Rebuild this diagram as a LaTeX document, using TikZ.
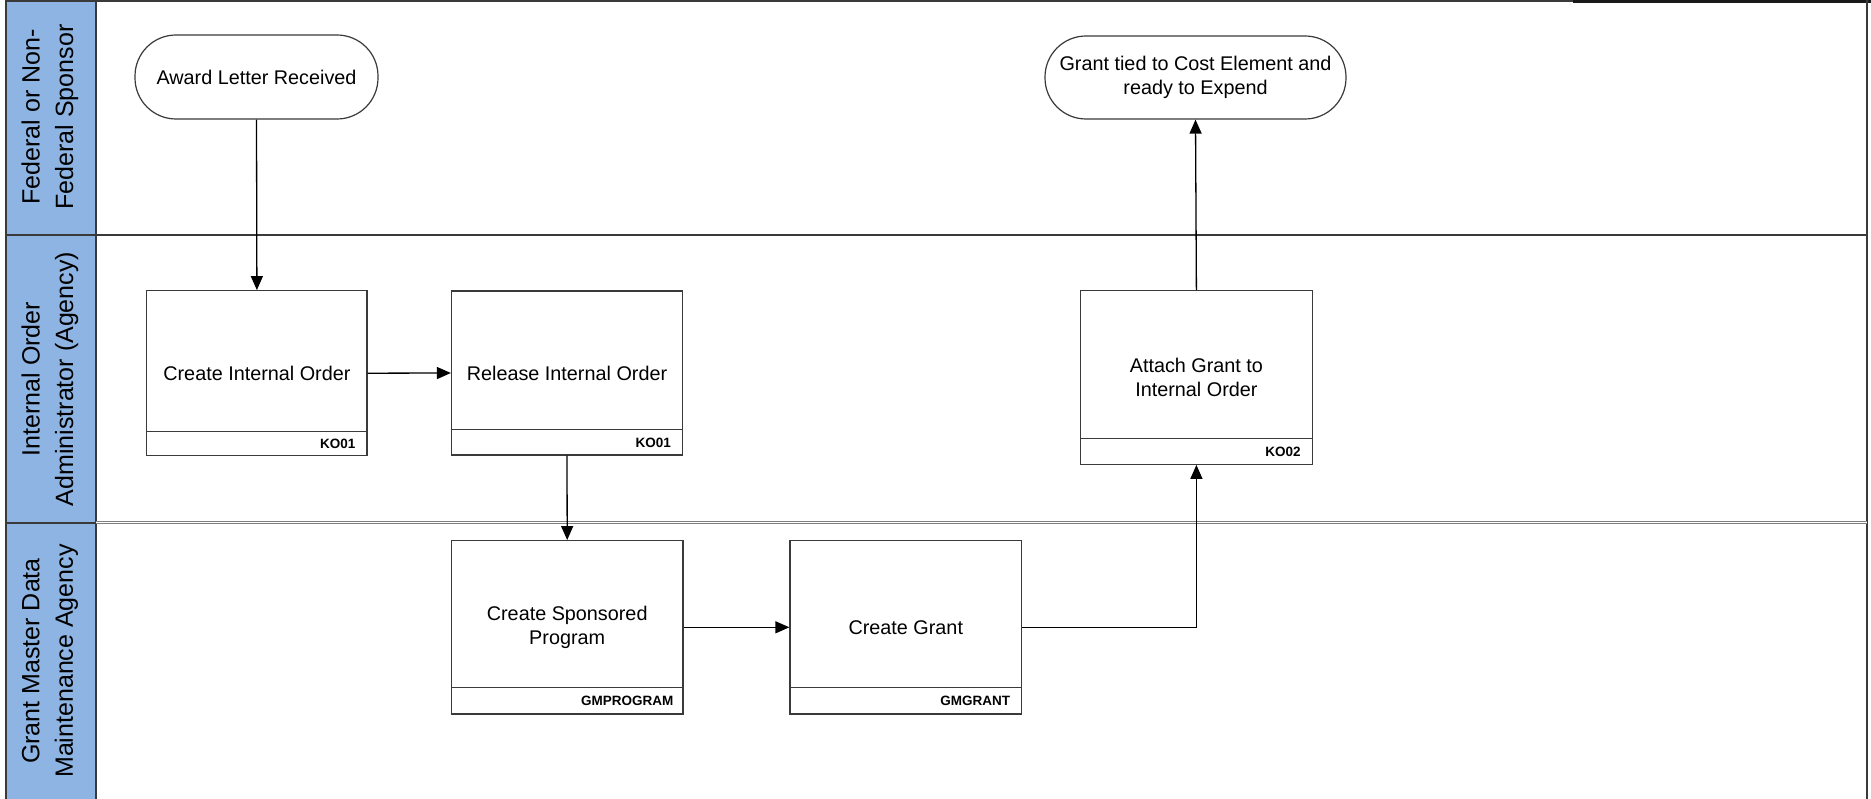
\documentclass[tikz,border=0pt]{standalone}
\usepackage{fontspec}
\setmainfont{Liberation Sans}
\usetikzlibrary{arrows.meta}
\definecolor{lanefill}{HTML}{8DB4E2}
\definecolor{edge}{HTML}{3A3A3A}
\begin{document}
\begin{tikzpicture}[x=1pt,y=-1pt,
  proc/.style={draw=edge, line width=1.2pt, fill=white, inner sep=0pt, align=center,
    font=\fontsize{19.8}{23.5}\selectfont},
  term/.style={draw=edge, line width=1.2pt, fill=white, rounded corners=41pt, inner sep=0pt,
    align=center, font=\fontsize{19.8}{24}\selectfont},
  code/.style={font=\bfseries\fontsize{13.5}{14}\selectfont, anchor=east, inner sep=0pt},
  flow/.style={draw=black, line width=1.3pt, -{Triangle[length=14pt,width=12pt]}},
  divline/.style={draw=edge, line width=1.2pt},
  lanetext/.style={rotate=90, align=center, inner sep=0pt, font=\fontsize{25}{33.5}\selectfont},
  border/.style={draw=edge, line width=2pt}
]
\useasboundingbox (0,0) rectangle (1871,799);
\fill[white] (0,0) rectangle (1871,799);

% lane header column
\fill[lanefill] (6,0) rectangle (96,799);
\draw[border] (6,0) -- (6,799);
\draw[border] (96,0) -- (96,799);
% top border
\draw[border] (6,1) -- (1573,1);
\draw[draw=black!90, line width=3pt] (1573,1.5) -- (1871,1.5);
% right border
\draw[draw=edge, line width=2.2pt] (1867,0) -- (1867,799);
% lane 1/2 boundary
\draw[border] (6,235) -- (1867,235);
% lane 2/3 boundary
\draw[border] (6,522.7) -- (96,522.7);
\draw[draw=gray, line width=1pt, double=white, double distance=1.2pt] (96,522.7) -- (1867,522.7);

% lane titles
\node[lanetext] (lane1) at (50,117) {Federal or Non-\\Federal Sponsor};
\node[lanetext] (lane2) at (50,379) {Internal Order\\Administrator (Agency)};
\node[lanetext] (lane3) at (50,661) {Grant Master Data\\Maintenance Agency};

% terminators
\node[term, minimum width=243pt, minimum height=84pt] (award) at (256.5,77) {Award Letter Received};
\node[term, minimum width=301pt, minimum height=83pt] (tied) at (1195.5,77.5) {Grant tied to Cost Element and\\ready to Expend};

% process boxes
\node[proc, minimum width=220.3pt, minimum height=165pt] (cio) at (256.9,373.2) {Create Internal Order};
\draw[divline] ([yshift=25pt]cio.south west) -- ([yshift=25pt]cio.south east);
\node[code] (cioc) at ([xshift=-12pt,yshift=12.5pt]cio.south east) {KO01};

\node[proc, minimum width=231pt, minimum height=164pt] (rio) at (567,373) {Release Internal Order};
\draw[divline] ([yshift=26.5pt]rio.south west) -- ([yshift=26.5pt]rio.south east);
\node[code] (rioc) at ([xshift=-12pt,yshift=13.2pt]rio.south east) {KO01};

\node[proc, minimum width=231.8pt, minimum height=173.6pt] (att) at (1196.4,377.5) {Attach Grant to\\Internal Order};
\draw[divline] ([yshift=26.6pt]att.south west) -- ([yshift=26.6pt]att.south east);
\node[code] (attc) at ([xshift=-12pt,yshift=13.3pt]att.south east) {KO02};

\node[proc, minimum width=231.5pt, minimum height=173.3pt] (spo) at (567.2,627.3) {Create Sponsored\\Program};
\draw[divline] ([yshift=26.7pt]spo.south west) -- ([yshift=26.7pt]spo.south east);
\node[code] (spoc) at ([xshift=-10pt,yshift=13.3pt]spo.south east) {GMPROGRAM};

\node[proc, minimum width=231.7pt, minimum height=173.3pt] (grt) at (905.8,627.3) {Create Grant};
\draw[divline] ([yshift=26.7pt]grt.south west) -- ([yshift=26.7pt]grt.south east);
\node[code] (grtc) at ([xshift=-12pt,yshift=13.3pt]grt.south east) {GMGRANT};

% connectors
\draw[flow] (award.south) -- (cio.north);
\draw[flow] (cio.east) -- (rio.west);
\draw[flow] (rio.south) -- (spo.north);
\draw[flow] (spo.east) -- (grt.west);
\draw[flow] (grt.east) -| (att.south);
\draw[flow] (att.north) -- (tied.south);
\end{tikzpicture}
\end{document}
